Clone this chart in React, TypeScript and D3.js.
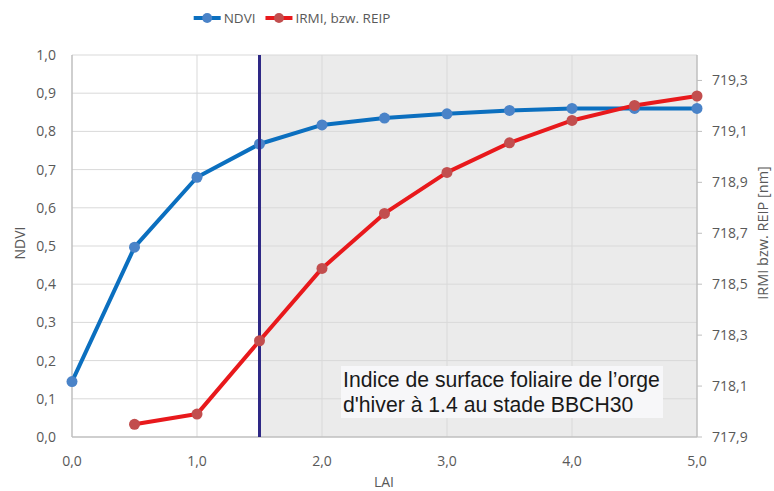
import { useEffect, useRef } from "react";
import * as d3 from "d3";

const lai = [0, 0.5, 1, 1.5, 2, 2.5, 3, 3.5, 4, 4.5, 5];
const ndvi = [0.145, 0.497, 0.68, 0.767, 0.817, 0.835, 0.846, 0.855, 0.86, 0.86, 0.86];
const reip = [null, 717.95, 717.99, 718.278, 718.562, 718.778, 718.939, 719.055, 719.143, 719.202, 719.239];
const xTicks = [0, 1, 2, 3, 4, 5];
const leftTicks = [0, 0.1, 0.2, 0.3, 0.4, 0.5, 0.6, 0.7, 0.8, 0.9, 1.0];
const rightTicks = [717.9, 718.1, 718.3, 718.5, 718.7, 718.9, 719.1, 719.3];
const markerLai = 1.5;
const note = ["Indice de surface foliaire de l\u2019orge", "d'hiver \u00e0 1.4 au stade BBCH30"];

const fmt = (v: number) => v.toFixed(1).replace(".", ",");

export default function App() {
  const ref = useRef<SVGSVGElement>(null);

  useEffect(() => {
    const svg = d3.select(ref.current);
    svg.selectAll("*").remove();

    const left = 72, right = 697, top = 55, bottom = 437;
    const x = d3.scaleLinear().domain([0, 5]).range([left, right]);
    const y = d3.scaleLinear().domain([0, 1]).range([bottom, top]);
    const y2 = d3.scaleLinear().domain([717.9, 719.4]).range([bottom, top]);
    const labelFont = "'Open Sans', sans-serif";
    const grey = "#595959";

    // shaded area right of the marker line
    svg.append("rect")
      .attr("x", x(markerLai)).attr("y", top)
      .attr("width", x(5) - x(markerLai)).attr("height", bottom - top)
      .attr("fill", "#ebebeb");

    // grid
    svg.append("g").selectAll("line").data(leftTicks.slice(1)).join("line")
      .attr("x1", left).attr("x2", right)
      .attr("y1", d => y(d)).attr("y2", d => y(d))
      .attr("stroke", "#d9d9d9").attr("stroke-width", 1);
    svg.append("g").selectAll("line").data(xTicks.slice(1, -1)).join("line")
      .attr("x1", d => x(d)).attr("x2", d => x(d))
      .attr("y1", top).attr("y2", bottom)
      .attr("stroke", "#d9d9d9").attr("stroke-width", 1);

    // axis lines
    const axisCol = "#bfbfbf";
    svg.append("line").attr("x1", left).attr("x2", left).attr("y1", top).attr("y2", bottom)
      .attr("stroke", axisCol).attr("stroke-width", 1.5);
    svg.append("line").attr("x1", right).attr("x2", right).attr("y1", top).attr("y2", bottom)
      .attr("stroke", axisCol).attr("stroke-width", 1.5);
    svg.append("line").attr("x1", left).attr("x2", right).attr("y1", bottom).attr("y2", bottom)
      .attr("stroke", axisCol).attr("stroke-width", 1.5);
    svg.append("g").selectAll("line").data(rightTicks).join("line")
      .attr("x1", right).attr("x2", right + 5)
      .attr("y1", d => y2(d)).attr("y2", d => y2(d))
      .attr("stroke", axisCol);

    // text box
    svg.append("rect")
      .attr("x", 341).attr("y", 366).attr("width", 322).attr("height", 52)
      .attr("fill", "#f7f7f9");
    svg.append("g").selectAll("text").data(note).join("text")
      .attr("x", 343).attr("y", (_, i) => 387 + i * 24.5)
      .attr("font-family", "'Liberation Sans', Arial, sans-serif")
      .attr("font-size", 21.2).attr("fill", "#1a1a1a")
      .text(d => d);

    // tick labels
    svg.append("g").selectAll("text").data(leftTicks).join("text")
      .attr("x", 56).attr("y", d => y(d)).attr("dy", "0.35em")
      .attr("text-anchor", "end").attr("font-family", labelFont)
      .attr("font-size", 14).attr("fill", grey).text(d => fmt(d));
    svg.append("g").selectAll("text").data(rightTicks).join("text")
      .attr("x", 712).attr("y", d => y2(d)).attr("dy", "0.35em")
      .attr("font-family", labelFont)
      .attr("font-size", 14).attr("fill", grey).text(d => fmt(d));
    svg.append("g").selectAll("text").data(xTicks).join("text")
      .attr("x", d => x(d)).attr("y", 466)
      .attr("text-anchor", "middle").attr("font-family", labelFont)
      .attr("font-size", 14).attr("fill", grey).text(d => fmt(d));

    // axis titles
    svg.append("text").attr("transform", `translate(25,243) rotate(-90)`)
      .attr("text-anchor", "middle").attr("font-family", labelFont)
      .attr("font-size", 14).attr("fill", grey).text("NDVI");
    svg.append("text").attr("transform", `translate(768,233) rotate(-90)`)
      .attr("text-anchor", "middle").attr("font-family", labelFont)
      .attr("font-size", 14.5).attr("fill", grey).text("IRMI bzw. REIP [nm]");
    svg.append("text").attr("x", 384).attr("y", 487)
      .attr("text-anchor", "middle").attr("font-family", labelFont)
      .attr("font-size", 14).attr("fill", grey).text("LAI");

    // series
    const ndviPts = lai.map((l, i) => [x(l), y(ndvi[i])] as [number, number]);
    const reipPts = lai
      .map((l, i) => (reip[i] == null ? null : ([x(l), y2(reip[i] as number)] as [number, number])))
      .filter((p): p is [number, number] => p !== null);
    const line = d3.line();

    svg.append("path").attr("d", line(ndviPts)).attr("fill", "none")
      .attr("stroke", "#0b6fbf").attr("stroke-width", 4).attr("stroke-linejoin", "round");
    svg.append("g").selectAll("circle").data(ndviPts).join("circle")
      .attr("cx", d => d[0]).attr("cy", d => d[1]).attr("r", 5.5).attr("fill", "#4a83c8");

    // vertical marker line
    svg.append("line").attr("x1", x(markerLai)).attr("x2", x(markerLai))
      .attr("y1", top).attr("y2", bottom)
      .attr("stroke", "#2e2885").attr("stroke-width", 3);

    svg.append("path").attr("d", line(reipPts)).attr("fill", "none")
      .attr("stroke", "#e8191c").attr("stroke-width", 4).attr("stroke-linejoin", "round");
    svg.append("g").selectAll("circle").data(reipPts).join("circle")
      .attr("cx", d => d[0]).attr("cy", d => d[1]).attr("r", 5.5).attr("fill", "#c24e4e");

    // legend, laid out from measured text widths and centred like the original
    const legend = [
      { name: "NDVI", line: "#0b6fbf", dot: "#4a83c8" },
      { name: "IRMI, bzw. REIP", line: "#e8191c", dot: "#c24e4e" },
    ];
    const lg = svg.append("g");
    let cursor = 0;
    legend.forEach((d, i) => {
      const g = lg.append("g").attr("transform", `translate(${cursor},18)`);
      g.append("line").attr("x1", 0).attr("x2", 27).attr("y1", 0).attr("y2", 0)
        .attr("stroke", d.line).attr("stroke-width", 4);
      g.append("circle").attr("cx", 13.5).attr("cy", 0).attr("r", 5).attr("fill", d.dot);
      const t = g.append("text").attr("x", 30).attr("dy", "0.35em")
        .attr("font-family", labelFont).attr("font-size", 13.5).attr("fill", grey)
        .text(d.name);
      const w = (t.node() as SVGTextElement).getComputedTextLength();
      cursor += 30 + w + (i === 0 ? 10 : 0);
    });
    lg.attr("transform", `translate(${292 - cursor / 2},0)`);
  }, []);

  return <svg ref={ref} width={774} height={491} style={{ display: "block", position: "absolute", left: 0, top: 0 }} />;
}
